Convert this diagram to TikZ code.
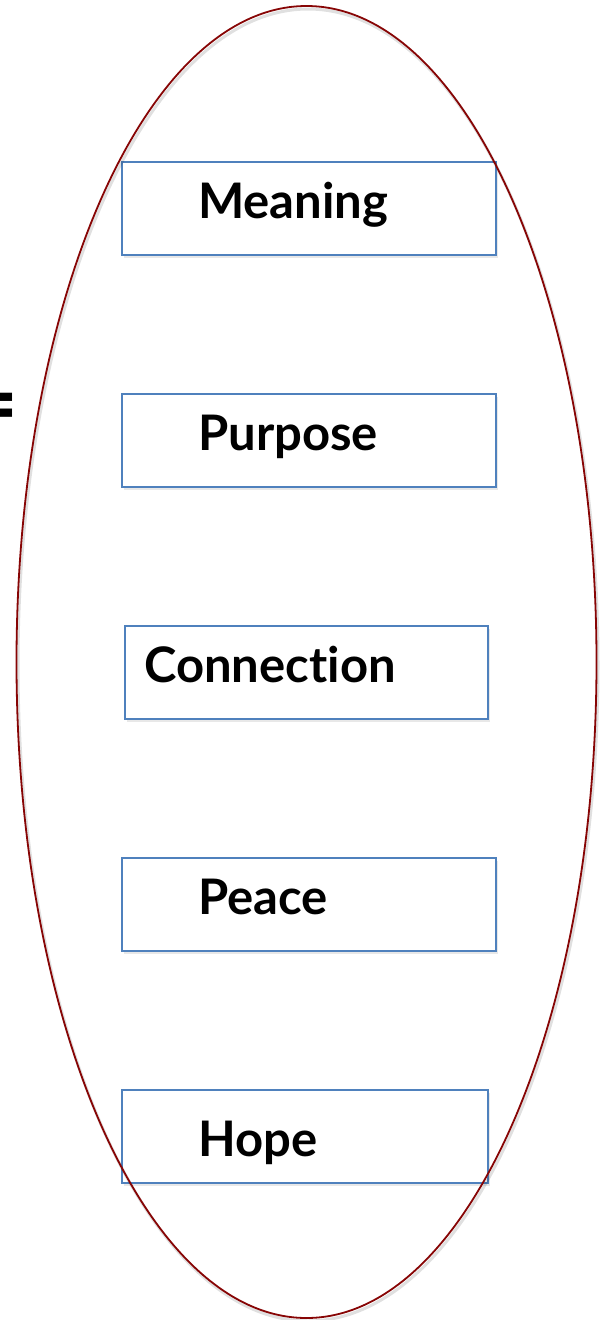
\documentclass[tikz,border=0pt]{standalone}
\usepackage{fontspec}
\setmainfont{Lato}[Ligatures=NoCommon]
\usetikzlibrary{shadows,shapes.geometric}
\definecolor{ellred}{RGB}{135,5,5}
\definecolor{boxblue}{RGB}{79,129,189}
\tikzset{
  itembox/.style={draw=boxblue, line width=1.3pt, fill=white, rectangle, inner sep=0pt,
    drop shadow={opacity=0.18, shadow xshift=1.5pt, shadow yshift=-2.5pt}},
  itemtext/.style={anchor=base west, inner sep=0pt, font=\fontsize{49}{51}\selectfont\bfseries},
  ovalshape/.style={ellipse, minimum width=580pt, minimum height=1312pt, inner sep=0pt},
}
\begin{document}
\begin{tikzpicture}[x=1pt,y=-1pt]
\useasboundingbox (0,0) rectangle (605,1320);
% boxes
\node[itembox, minimum width=374pt, minimum height=93pt] (bmeaning) at (309,208.5) {};
\node[itembox, minimum width=374pt, minimum height=93pt] (bpurpose) at (309,440.5) {};
\node[itembox, minimum width=363pt, minimum height=93pt] (bconnection) at (306.5,672.5) {};
\node[itembox, minimum width=374pt, minimum height=93pt] (bpeace) at (309,904.5) {};
\node[itembox, minimum width=366pt, minimum height=93pt] (bhope) at (305,1136.5) {};
% texts
\node[itemtext] (tmeaning) at (198,218) {Meaning};
\node[itemtext] (tpurpose) at (198,450) {Purpose};
\node[itemtext] (tconnection) at (144,682) {Connection};
\node[itemtext] (tpeace) at (198,914) {Peace};
\node[itemtext] (thope) at (198,1156) {Hope};
% equals sign (partly outside page, as in the reference)
\node[anchor=east, inner sep=0pt, font=\fontsize{90}{90}\selectfont\bfseries] (eq) at (19,414) {=};
% ellipse with soft shadow
\node[ovalshape, draw=black, draw opacity=0.12, line width=3pt] (ovalshadow) at (308,665) {};
\node[ovalshape, draw=ellred, line width=1.8pt] (oval) at (306.5,662) {};
\end{tikzpicture}
\end{document}
